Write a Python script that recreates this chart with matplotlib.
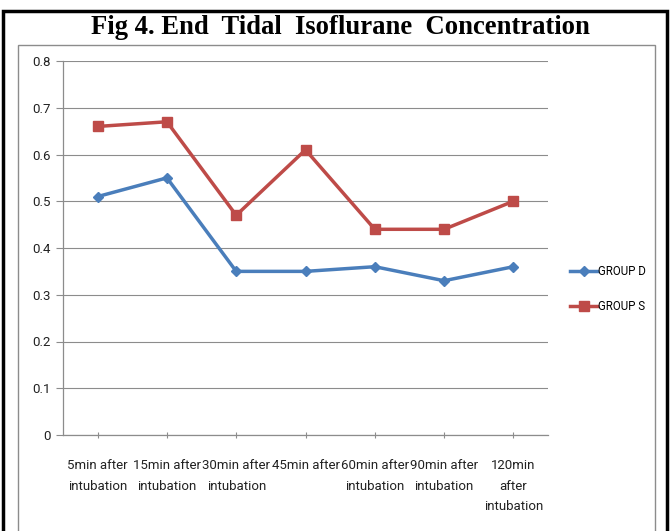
import matplotlib
matplotlib.use("Agg")
import matplotlib.pyplot as plt
from matplotlib.patches import Rectangle

categories = ["5min after\nintubation", "15min after\nintubation", "30min after\nintubation",
              "45min after", "60min after\nintubation", "90min after\nintubation",
              "120min\nafter\nintubation"]
group_d = [0.51, 0.55, 0.35, 0.35, 0.36, 0.33, 0.36]
group_s = [0.66, 0.67, 0.47, 0.61, 0.44, 0.44, 0.50]
yticks = [0, 0.1, 0.2, 0.3, 0.4, 0.5, 0.6, 0.7, 0.8]
ytick_labels = ["0", "0.1", "0.2", "0.3", "0.4", "0.5", "0.6", "0.7", "0.8"]

W, H = 670, 531
fig = plt.figure(figsize=(W / 100, H / 100), dpi=100)
fig.patch.set_facecolor("white")

font_narrow = ["Liberation Sans Narrow", "Roboto", "DejaVu Sans"]

# outer black frame
fig.patches.append(Rectangle((3 / W, -0.05), (667 - 3) / W, 1.05 - 11 / H,
                             transform=fig.transFigure, fill=False,
                             edgecolor="black", linewidth=2.5))
# inner grey chart frame
fig.patches.append(Rectangle((18 / W, -0.05), (655 - 18) / W, 1.05 - 45 / H,
                             transform=fig.transFigure, fill=False,
                             edgecolor="#8c8c8c", linewidth=1.0))

fig.text(340 / W, 1 - 27 / H, "Fig 4. End  Tidal  Isoflurane  Concentration",
         ha="center", va="center", fontsize=19.2, fontweight="bold",
         family=["Liberation Serif", "DejaVu Serif"])

left, right = 63 / W, 548 / W
bottom, top = 1 - 435 / H, 1 - 61 / H
ax = fig.add_axes([left, bottom, right - left, top - bottom])

x = list(range(len(categories)))
ax.plot(x, group_d, color="#4A7EBB", linewidth=2.5, marker="D", markersize=5,
        label="GROUP D", zorder=3)
ax.plot(x, group_s, color="#BE4B48", linewidth=2.5, marker="s", markersize=7,
        label="GROUP S", zorder=3)

ax.set_xlim(-0.5, len(categories) - 0.5)
ax.set_ylim(0, 0.8)
ax.set_yticks(yticks)
ax.set_yticklabels(ytick_labels, family=font_narrow, fontsize=9.5, color="#222222")
ax.set_xticks(x)
ax.set_xticklabels(categories, family=font_narrow, fontsize=9.5, color="#222222",
                   linespacing=1.75)
ax.tick_params(axis="x", length=5, color="#8c8c8c", direction="inout", pad=15)
ax.tick_params(axis="y", length=5, color="#8c8c8c", pad=4)

ax.grid(axis="y", color="#8c8c8c", linewidth=0.8)
ax.set_axisbelow(True)
for s in ["top", "right"]:
    ax.spines[s].set_visible(False)
for s in ["left", "bottom"]:
    ax.spines[s].set_color("#8c8c8c")
    ax.spines[s].set_linewidth(0.9)

leg = fig.legend(loc="center left", bbox_to_anchor=(567 / W, 1 - 289 / H),
                 frameon=False, prop={"family": font_narrow, "size": 8.3},
                 handlelength=2.3, handletextpad=0.1, labelspacing=1.95,
                 borderpad=0.3, borderaxespad=0)

fig.savefig("out.png", dpi=100)
